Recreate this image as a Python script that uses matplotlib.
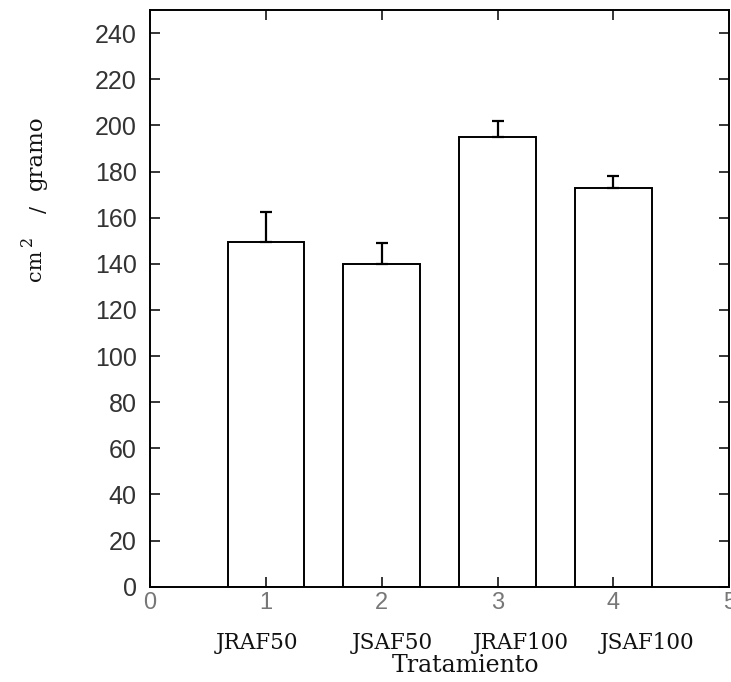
import matplotlib
matplotlib.use('Agg')
import matplotlib.pyplot as plt

positions = [1, 2, 3, 4]
tratamientos = ['JRAF50', 'JSAF50', 'JRAF100', 'JSAF100']
area = [149.3, 139.7, 195.0, 173.0]  # cm2 / gramo
error = [13.2, 9.2, 6.8, 4.9]
yticks = list(range(0, 241, 20))
xticks = [0, 1, 2, 3, 4, 5]

# where the treatment names sit under the axis (x in data units)
label_x = [0.92, 2.09, 3.20, 4.29]

fig = plt.figure(figsize=(7.31, 6.82), dpi=100)
ax = fig.add_axes([0.2052, 0.1397, 0.7925, 0.8456])

ax.bar(positions, area, width=0.66, color='white', edgecolor='black', linewidth=1.4,
       yerr=[[0] * len(error), error],
       error_kw={'ecolor': 'black', 'elinewidth': 1.6, 'capsize': 4.5, 'capthick': 1.6})

ax.set_xlim(0, 5)
ax.set_ylim(0, 250)
ax.set_yticks(yticks)
ax.set_xticks(xticks)
ax.tick_params(axis='both', direction='in', length=7, width=1.1, top=True, right=True,
               labelfontfamily='Liberation Sans')
ax.tick_params(axis='y', labelsize=18, labelcolor='#333333', pad=9.5)
ax.tick_params(axis='x', labelsize=17, labelcolor='#777777', pad=4)
for sp in ax.spines.values():
    sp.set_linewidth(1.4)

trans = ax.get_xaxis_transform()
for x, name in zip(label_x, tratamientos):
    ax.text(x, -0.097, name, transform=trans, ha='center', va='center',
            family='DejaVu Serif', fontsize=15.5, color='#111111')
ax.text(2.72, -0.137, 'Tratamiento', transform=trans, ha='center', va='center',
        family='DejaVu Serif', fontsize=17, color='#111111')

# y label, pieces spread out like the original typewriter-style label
ylab = dict(rotation=90, ha='center', va='center', family='DejaVu Serif', color='#111111')
fig.text(0.0492, 0.7764, 'gramo', fontsize=16.5, **ylab)
fig.text(0.0534, 0.6935, '/', fontsize=15, **ylab)
fig.text(0.0369, 0.6466, '2', fontsize=11.5, **ylab)
fig.text(0.0479, 0.6114, 'cm', fontsize=15, **ylab)

fig.savefig('out.png', dpi=100)
